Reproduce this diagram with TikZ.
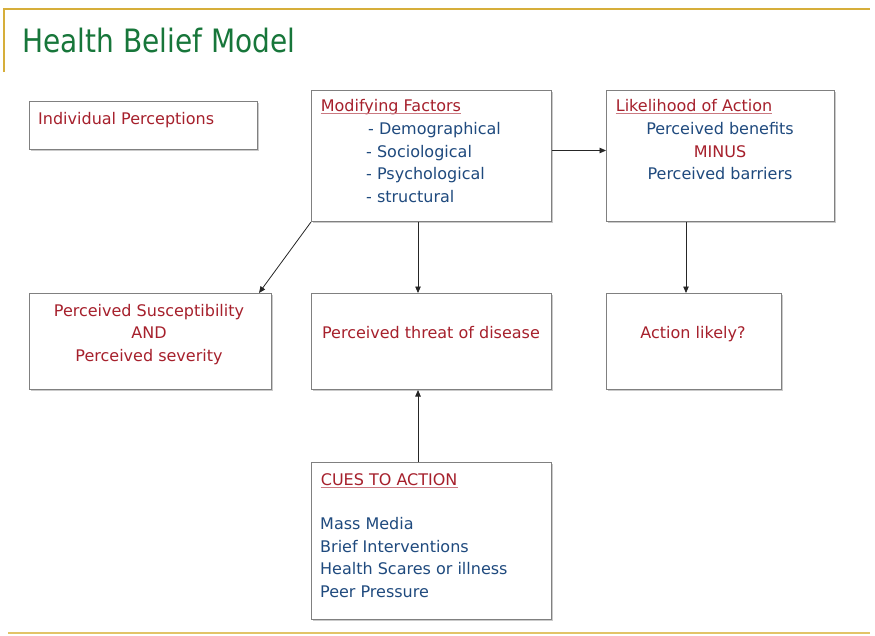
\documentclass[tikz,border=0pt]{standalone}
\usepackage{fontspec}
\setmainfont{DejaVu Sans}
\usetikzlibrary{arrows.meta,shadows}
\definecolor{hbred}{HTML}{A6202C}
\definecolor{hbblue}{HTML}{1F4A7E}
\definecolor{hbgreen}{HTML}{17763A}
\definecolor{hbgold}{HTML}{D6AE3A}
\definecolor{hbgold2}{HTML}{E2C468}
\definecolor{hbframe}{HTML}{808080}
\tikzset{
  box/.style={draw=hbframe, line width=1pt, fill=white, inner sep=0pt,
    drop shadow={shadow xshift=1.2pt, shadow yshift=-1.2pt, opacity=0.35, fill=black!60}},
  rtxt/.style={text=hbred, font=\fontsize{16}{22}\selectfont, inner sep=0pt},
  btxt/.style={text=hbblue, font=\fontsize{16}{22}\selectfont, inner sep=0pt},
  conn/.style={draw=black!85, line width=0.8pt, -{Triangle[length=6.5pt,width=5.5pt]}},
}
\newcommand{\hbul}[1]{\tikz[baseline=(u.base)]{\node[inner sep=0pt](u){#1};\draw[hbred!60,line width=0.9pt]([yshift=-2.5pt]u.base west)--([yshift=-2.5pt]u.base east);}}
\begin{document}
\begin{tikzpicture}[x=1pt,y=-1pt]
\useasboundingbox (0,0) rectangle (875,635);
% frame lines
\draw[hbgold, line width=2pt] (4,72) -- (4,9) -- (870,9);
\draw[hbgold2, line width=2pt] (8,633) -- (870,633);
% title
\node[anchor=base west, inner sep=0pt, text=hbgreen] (title) at (22,52)
  {\scalebox{1}[1.15]{\fontsize{28}{30}\selectfont Health Belief Model}};
% boxes
\node[box, minimum width=228pt, minimum height=48pt, anchor=north west] (ind) at (29,101) {};
\node[box, minimum width=240pt, minimum height=131pt, anchor=north west] (mod) at (311,90) {};
\node[box, minimum width=228pt, minimum height=131pt, anchor=north west] (lik) at (606,90) {};
\node[box, minimum width=242pt, minimum height=96pt, anchor=north west] (sus) at (29,293) {};
\node[box, minimum width=240pt, minimum height=96pt, anchor=north west] (thr) at (311,293) {};
\node[box, minimum width=175pt, minimum height=96pt, anchor=north west] (act) at (606,293) {};
\node[box, minimum width=240pt, minimum height=157pt, anchor=north west] (cue) at (311,462) {};
% texts
\node[rtxt, anchor=base west] (indt) at (38,124) {Individual Perceptions};
\node[rtxt, anchor=base west] (modt) at (320,111) {\hbul{Modifying Factors}};
\node[btxt, anchor=base west] (mod1) at (368,134) {- Demographical};
\node[btxt, anchor=base west] (mod2) at (366,157) {- Sociological};
\node[btxt, anchor=base west] (mod3) at (366,179) {- Psychological};
\node[btxt, anchor=base west] (mod4) at (366,202) {- structural};
\node[rtxt, anchor=base west] (likt) at (615,111) {\hbul{Likelihood of Action}};
\node[btxt, anchor=base] (lik1) at (720,134) {Perceived benefits};
\node[rtxt, anchor=base] (lik2) at (720,157) {MINUS};
\node[btxt, anchor=base] (lik3) at (720,179) {Perceived barriers};
\node[rtxt, anchor=base] (sus1) at (149,316) {Perceived Susceptibility};
\node[rtxt, anchor=base] (sus2) at (149,338) {AND};
\node[rtxt, anchor=base] (sus3) at (149,361) {Perceived severity};
\node[rtxt, anchor=base] (thrt) at (431,338) {Perceived threat of disease};
\node[rtxt, anchor=base] (actt) at (693,338) {Action likely?};
\node[rtxt, anchor=base west] (cuet) at (320,485) {\hbul{CUES TO ACTION}};
\node[btxt, anchor=base west] (cue1) at (320,529) {Mass Media};
\node[btxt, anchor=base west] (cue2) at (320,552) {Brief Interventions};
\node[btxt, anchor=base west] (cue3) at (320,574) {Health Scares or illness};
\node[btxt, anchor=base west] (cue4) at (320,597) {Peer Pressure};
% connectors
\draw[conn] (mod.east) ++(0,-5.5) coordinate (mE) (mE) -- (mE -| lik.west);
\draw[conn] (mod.south west) -- ([xshift=-13pt]sus.north east);
\draw[conn] ([xshift=107pt]mod.south west) -- ([xshift=107pt]thr.north west);
\draw[conn] ([xshift=80pt]lik.south west) -- ([xshift=80pt]act.north west);
\draw[conn] ([xshift=107pt]cue.north west) -- ([xshift=107pt]thr.south west);
\end{tikzpicture}
\end{document}
